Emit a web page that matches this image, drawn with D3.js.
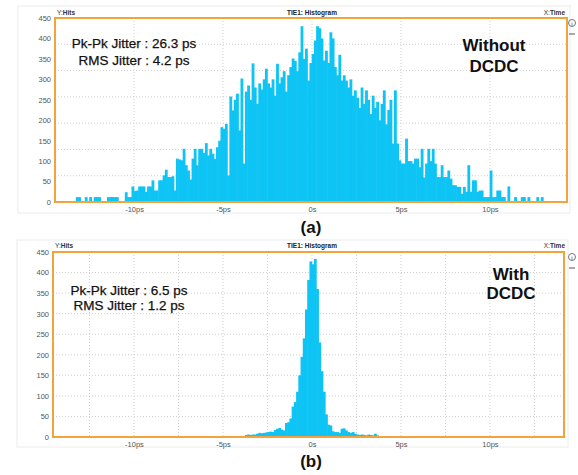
<!DOCTYPE html>
<html>
<head>
<meta charset="utf-8">
<script src="https://cdn.jsdelivr.net/npm/d3@7/dist/d3.min.js"></script>
<style>
  html, body { margin: 0; padding: 0; background: #fff; }
  svg { display: block; font-family: "Liberation Sans", Arial, sans-serif; }
</style>
</head>
<body>
<script>
// TIE histogram data: hits per 0.125 ps bin
const binWidth = 0.125;           // ps
const binStartA = -13.25;         // ps, left edge of first bin (without DC-DC)
const hitsA = [
  12, 12, 0, 0, 12, 0, 12, 0,
  12, 12, 12, 0, 0, 0, 12, 12,
  12, 12, 12, 0, 0, 0, 24, 12,
  12, 38, 27, 28, 38, 38, 38, 25,
  38, 38, 53, 28, 28, 53, 53, 65,
  79, 61, 61, 63, 28, 106, 104, 102,
  130, 90, 77, 55, 106, 130, 90, 130,
  130, 120, 144, 114, 130, 118, 105, 134,
  150, 183, 179, 191, 65, 258, 224, 250,
  265, 175, 302, 94, 270, 285, 250, 339,
  280, 240, 290, 275, 300, 326, 290, 280,
  300, 260, 338, 290, 305, 320, 270, 310,
  330, 351, 345, 320, 366, 430, 350, 375,
  297, 340, 362, 395, 430, 425, 400, 346,
  370, 340, 415, 400, 330, 310, 360, 297,
  310, 297, 280, 300, 260, 273, 255, 230,
  280, 240, 273, 250, 215, 260, 230, 245,
  200, 240, 273, 190, 225, 250, 143, 273,
  143, 102, 94, 94, 155, 100, 100, 94,
  106, 106, 85, 130, 60, 94, 130, 100,
  130, 94, 61, 61, 90, 61, 61, 77,
  57, 41, 41, 37, 37, 20, 37, 25,
  90, 25, 53, 53, 25, 28, 28, 12,
  12, 12, 77, 12, 12, 28, 28, 12,
  12, 0, 38, 0, 0, 12, 0, 0,
  12, 12, 0, 12, 0, 0, 0, 12,
  0, 12, 0, 0
];

const binStartB = -3.75;          // ps, left edge of first bin (with DC-DC)
const hitsB = [
  5, 6, 5, 6, 6, 8, 10, 9, 10, 11,
  12, 13, 12, 17, 20, 22, 18, 16, 34, 36,
  45, 74, 85, 110, 150, 195, 240, 310, 382, 427,
  420, 433, 360, 230, 160, 110, 55, 30, 28, 14,
  12, 12, 10, 20, 21, 16, 12, 10, 12, 8,
  6, 5, 6, 5, 4, 6, 5, 4, 8, 4
];

const yTicks = [0, 50, 100, 150, 200, 250, 300, 350, 400, 450];
const xTicks = [-10, -5, 0, 5, 10];
const xTickLabels = ["-10ps", "-5ps", "0s", "5ps", "10ps"];

const panels = [
  {
    hits: hitsA, start: binStartA,
    box: { left: 55, right: 567, top: 18, bottom: 202 },
    frame: { x0: 18, y0: 6, x1: 570, y1: 213 },
    xDomain: [-14.44, 14.33],
    vGrid: [-10, -5, 0, 5, 10],
    hGridDivisions: 7,
    headerY: 15,
    notes: ["Pk-Pk Jitter : 26.3 ps", "RMS Jitter : 4.2 ps"],
    notesX: 134, notesY: [48, 65],
    tag: ["Without", "DCDC"], tagX: 494, tagY: [51, 72],
    caption: "(a)", captionY: 233
  },
  {
    hits: hitsB, start: binStartB,
    box: { left: 53, right: 564, top: 252, bottom: 437 },
    frame: { x0: 17, y0: 240, x1: 568, y1: 447 },
    xDomain: [-14.55, 14.16],
    vGrid: [-12.5, -10, -7.5, -5, -2.5, 0, 2.5, 5, 7.5, 10, 12.5],
    hGridDivisions: null,
    headerY: 248,
    notes: ["Pk-Pk Jitter : 6.5 ps", "RMS Jitter : 1.2 ps"],
    notesX: 129, notesY: [295, 310],
    tag: ["With", "DCDC"], tagX: 511, tagY: [280, 299],
    caption: "(b)", captionY: 467
  }
];

const svg = d3.select("body").append("svg")
  .attr("width", 578).attr("height", 475);

const orange = "#f2a33a";
const barColor = "#0ec4f4";
const gridColor = "#cfcfcf";

panels.forEach(p => {
  const g = svg.append("g");
  const b = p.box;

  const x = d3.scaleLinear().domain(p.xDomain).range([b.left, b.right]);
  const y = d3.scaleLinear().domain([0, 450]).range([b.bottom, b.top]);

  // faint outer window frame
  g.append("rect")
    .attr("x", p.frame.x0).attr("y", p.frame.y0)
    .attr("width", p.frame.x1 - p.frame.x0).attr("height", p.frame.y1 - p.frame.y0)
    .attr("fill", "none").attr("stroke", "#ececec").attr("stroke-width", 1);

  // dotted grid
  g.append("g").selectAll("line.v").data(p.vGrid).join("line")
    .attr("x1", d => x(d)).attr("x2", d => x(d))
    .attr("y1", b.top).attr("y2", b.bottom)
    .attr("stroke", gridColor).attr("stroke-dasharray", "1,2");

  const hLines = p.hGridDivisions
    ? d3.range(1, p.hGridDivisions).map(i => b.bottom - (b.bottom - b.top) * i / p.hGridDivisions)
    : yTicks.slice(1, -1).map(v => y(v));
  g.append("g").selectAll("line.h").data(hLines).join("line")
    .attr("x1", b.left).attr("x2", b.right)
    .attr("y1", d => d).attr("y2", d => d)
    .attr("stroke", gridColor).attr("stroke-dasharray", "1,2");

  // histogram bars (slight overlap so adjacent bins read as one solid fill)
  const bins = p.hits.map((h, i) => ({ x0: p.start + i * binWidth, x1: p.start + (i + 1) * binWidth, h }));
  g.append("g").selectAll("rect").data(bins.filter(d => d.h > 0)).join("rect")
    .attr("x", d => x(d.x0) - 0.3)
    .attr("width", d => x(d.x1) - x(d.x0) + 0.6)
    .attr("y", d => y(d.h))
    .attr("height", d => y(0) - y(d.h))
    .attr("fill", barColor);

  // plot frame
  g.append("rect")
    .attr("x", b.left).attr("y", b.top)
    .attr("width", b.right - b.left).attr("height", b.bottom - b.top)
    .attr("fill", "none").attr("stroke", orange).attr("stroke-width", 2);

  // y axis labels
  const yAxis = d3.axisLeft(y).tickValues(yTicks).tickSize(0).tickPadding(3);
  const ya = g.append("g").attr("transform", `translate(${b.left - 1},0)`).call(yAxis);
  ya.select(".domain").remove();
  ya.selectAll("text").attr("font-size", 7.5).attr("fill", "#555")
    .attr("font-family", "Liberation Sans, Arial, sans-serif");

  // x axis labels
  const xAxis = d3.axisBottom(x).tickValues(xTicks).tickSize(0).tickPadding(5)
    .tickFormat((d, i) => xTickLabels[i]);
  const xa = g.append("g").attr("transform", `translate(0,${b.bottom})`).call(xAxis);
  xa.select(".domain").remove();
  xa.selectAll("text").attr("font-size", 7.5).attr("fill", "#555")
    .attr("font-family", "Liberation Sans, Arial, sans-serif");

  // header strip
  g.append("text").attr("x", b.left + 2).attr("y", p.headerY)
    .attr("font-size", 6.5).attr("fill", "#333")
    .text("Y:").append("tspan").attr("font-weight", "bold").text("Hits");
  g.append("text").attr("x", 312).attr("y", p.headerY).attr("text-anchor", "middle")
    .attr("font-size", 6.5).attr("font-weight", "bold").attr("fill", "#222")
    .text("TIE1: Histogram");
  g.append("text").attr("x", 565).attr("y", p.headerY).attr("text-anchor", "end")
    .attr("font-size", 6.5).attr("fill", "#333")
    .text("X:").append("tspan").attr("font-weight", "bold").text("Time");

  // side icons
  const iy = b.top + 5;
  g.append("circle").attr("cx", 572).attr("cy", iy).attr("r", 3.5)
    .attr("fill", "none").attr("stroke", "#555").attr("stroke-width", 0.8);
  g.append("text").attr("x", 572).attr("y", iy + 2.5).attr("text-anchor", "middle")
    .attr("font-size", 6).attr("fill", "#444").text("i");
  g.append("line").attr("x1", 569).attr("x2", 575).attr("y1", iy + 11).attr("y2", iy + 11)
    .attr("stroke", "#555").attr("stroke-width", 1);

  // jitter annotations
  p.notes.forEach((t, i) => {
    g.append("text").attr("x", p.notesX).attr("y", p.notesY[i])
      .attr("text-anchor", "middle").attr("font-size", 13.5).attr("fill", "#111")
      .attr("stroke", "#111").attr("stroke-width", 0.25)
      .text(t);
  });
  p.tag.forEach((t, i) => {
    g.append("text").attr("x", p.tagX).attr("y", p.tagY[i])
      .attr("text-anchor", "middle").attr("font-size", 17).attr("font-weight", "bold")
      .attr("fill", "#111").text(t);
  });

  // caption
  g.append("text").attr("x", 311).attr("y", p.captionY).attr("text-anchor", "middle")
    .attr("font-size", 17).attr("font-weight", "bold").attr("fill", "#111")
    .text(p.caption);
});
</script>
</body>
</html>
